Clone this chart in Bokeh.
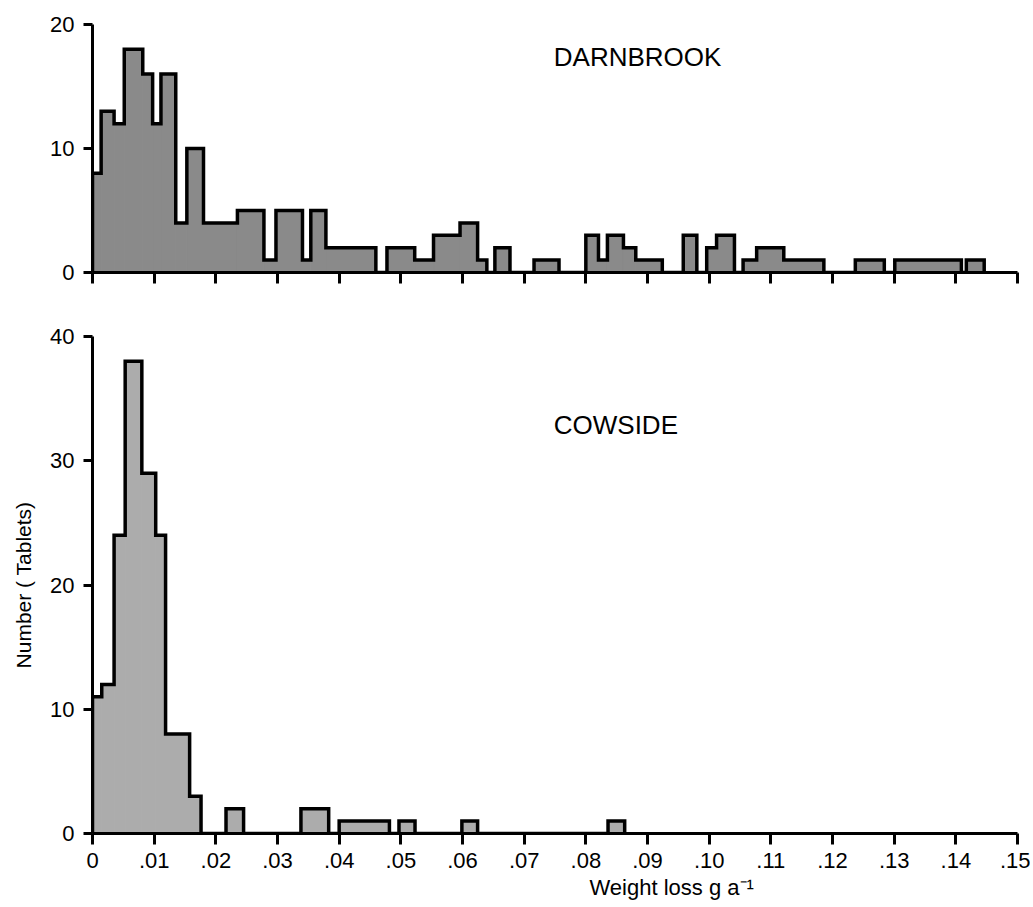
from bokeh.plotting import figure
from bokeh.layouts import column
from bokeh.models import FixedTicker, Label, Range1d, Title
from bokeh.embed import file_html
from bokeh.resources import INLINE

# ---------------- data ----------------
# Darnbrook: bin edges (g a^-1) and counts
darn_edges = [0.0, 0.0014, 0.0035, 0.00515, 0.00815, 0.00975, 0.0111, 0.0135, 0.0153, 0.0180,
              0.0235, 0.0278, 0.02975, 0.03405, 0.0354, 0.03785, 0.04595, 0.04775, 0.05225, 0.0553,
              0.0596, 0.06245, 0.06395, 0.06525, 0.0677, 0.0716, 0.07565, 0.0800, 0.08205, 0.0835,
              0.0861, 0.0881, 0.0924, 0.0958, 0.0980, 0.0996, 0.1012, 0.1041, 0.1055, 0.1077,
              0.1121, 0.1186, 0.1237, 0.1284, 0.1301, 0.1409, 0.1417, 0.1446]
darn_counts = [8, 13, 12, 18, 16, 12, 16, 4, 10, 4,
               5, 1, 5, 1, 5, 2, 0, 2, 1, 3,
               4, 1, 0, 2, 0, 1, 0, 3, 1, 3,
               2, 1, 0, 3, 0, 2, 3, 0, 1, 2,
               1, 0, 1, 0, 1, 0, 1]

# Cowside: bin edges and counts
cow_edges = [0.0, 0.0015, 0.0035, 0.0053, 0.0080, 0.01025, 0.01185, 0.01575, 0.0176, 0.02165,
             0.0245, 0.0338, 0.0383, 0.0400, 0.04815, 0.0497, 0.0523, 0.0599, 0.06245, 0.0836, 0.0863]
cow_counts = [11, 12, 24, 38, 29, 24, 8, 3, 0, 2,
              0, 2, 0, 1, 0, 1, 0, 1, 0, 1]

x_ticks = [0, 0.01, 0.02, 0.03, 0.04, 0.05, 0.06, 0.07, 0.08, 0.09, 0.10, 0.11, 0.12, 0.13, 0.14, 0.15]
x_tick_labels = ["0", ".01", ".02", ".03", ".04", ".05", ".06", ".07", ".08", ".09",
                 ".10", ".11", ".12", ".13", ".14", ".15"]
darn_y_ticks = [0, 10, 20]
cow_y_ticks = [0, 10, 20, 30, 40]

FONT = "Liberation Sans"


def step_outline(edges, counts):
    xs, ys = [edges[0]], [0]
    for i, c in enumerate(counts):
        xs += [edges[i], edges[i + 1]]
        ys += [c, c]
    xs.append(edges[-1])
    ys.append(0)
    return xs, ys


def style(p, yticks):
    p.outline_line_color = None
    p.xgrid.visible = False
    p.ygrid.visible = False
    p.background_fill_color = "white"
    p.border_fill_color = "white"
    p.xaxis.ticker = FixedTicker(ticks=x_ticks)
    p.yaxis.ticker = FixedTicker(ticks=yticks)
    for ax in (p.xaxis[0], p.yaxis[0]):
        ax.axis_line_width = 3
        ax.axis_line_color = "black"
        ax.major_tick_line_width = 3
        ax.major_tick_line_color = "black"
        ax.major_tick_in = 0
        ax.minor_tick_out = 0
        ax.minor_tick_in = 0
        ax.major_label_text_font = FONT
        ax.major_label_text_font_size = "22px"
        ax.major_label_text_color = "black"
    p.xaxis.major_tick_out = 11
    p.yaxis.major_tick_out = 9
    p.yaxis.major_label_standoff = 9


def draw_hist(p, edges, counts, fill):
    p.quad(left=edges[:-1], right=edges[1:], top=counts, bottom=0,
           fill_color=fill, line_color=fill, line_width=1)
    xs, ys = step_outline(edges, counts)
    p.line(xs, ys, line_color="black", line_width=3.5, line_join="miter")


# ---------------- top: Darnbrook ----------------
p1 = figure(width=1030, height=298, x_range=Range1d(0, 0.15), y_range=Range1d(0, 20),
            output_backend="svg", toolbar_location=None,
            min_border_left=92, min_border_right=13, min_border_top=24, min_border_bottom=26)
style(p1, darn_y_ticks)
p1.xaxis.major_label_text_font_size = "0px"
p1.xaxis.major_label_text_alpha = 0
p1.xaxis.major_label_overrides = {t: "" for t in x_ticks}
p1.xaxis.major_label_standoff = 0
draw_hist(p1, darn_edges, darn_counts, "#8a8a8a")
p1.add_layout(Label(x=0.0748, y=17.4, text="DARNBROOK", text_font=FONT,
                    text_font_size="26px", text_color="black", text_baseline="alphabetic"))

# ---------------- bottom: Cowside ----------------
p2 = figure(width=1030, height=609, x_range=Range1d(0, 0.15), y_range=Range1d(0, 40),
            output_backend="svg", toolbar_location=None,
            min_border_left=92, min_border_right=13, min_border_top=38, min_border_bottom=74)
style(p2, cow_y_ticks)
p2.xaxis.major_label_overrides = {t: l for t, l in zip(x_ticks, x_tick_labels)}
p2.xaxis.major_label_standoff = 8
p2.yaxis.axis_label = "Number ( Tablets)"
p2.yaxis.axis_label_text_font = FONT
p2.yaxis.axis_label_text_font_size = "21px"
p2.yaxis.axis_label_text_font_style = "normal"
p2.yaxis.axis_label_text_color = "black"
p2.yaxis.axis_label_standoff = 12
draw_hist(p2, cow_edges, cow_counts, "#acacac")
p2.add_layout(Label(x=0.0748, y=32.9, text="COWSIDE", text_font=FONT,
                    text_font_size="26px", text_color="black", text_baseline="alphabetic"))
p2.add_layout(Title(text="Weight loss g a\u207b\u00b9", text_font=FONT, text_font_size="22px",
                    text_font_style="normal", text_color="black", align="left",
                    offset=497, standoff=4), "below")

layout = column(p1, p2)
open("out.html", "w").write(file_html(layout, INLINE))
